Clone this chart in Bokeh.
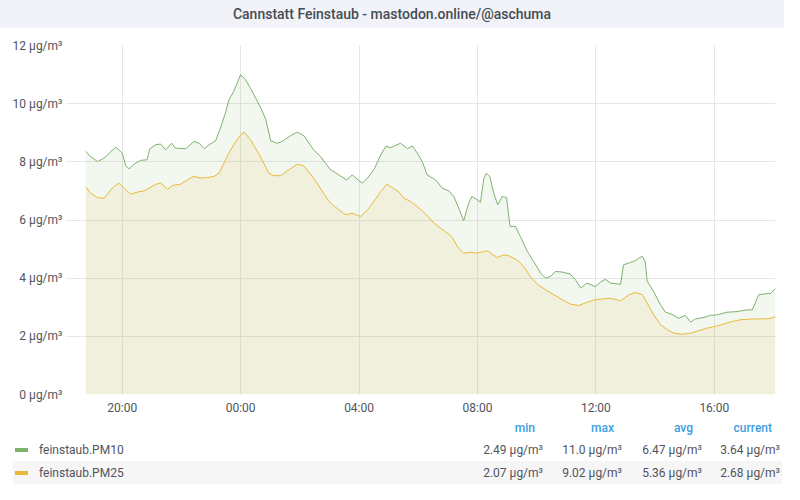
import pandas as pd
from bokeh.plotting import figure
from bokeh.layouts import column
from bokeh.models import Range1d, FixedTicker, DatetimeTickFormatter, ColumnDataSource, Div
from bokeh.embed import file_html
from bokeh.resources import INLINE

# ---------------- data ----------------
title_text = "Cannstatt Feinstaub - mastodon.online/@aschuma"
series_names = ["feinstaub.PM10", "feinstaub.PM25"]
stat_headers = ["min", "max", "avg", "current"]
pm10_stats = ["2.49 µg/m³", "11.0 µg/m³", "6.47 µg/m³", "3.64 µg/m³"]
pm25_stats = ["2.07 µg/m³", "9.02 µg/m³", "5.36 µg/m³", "2.68 µg/m³"]

x_window = ["18:07", "18:04"]
x_tick_labels = ["20:00", "00:00", "04:00", "08:00", "12:00", "16:00"]
y_ticks = [0, 2, 4, 6, 8, 10, 12]
y_unit = "µg/m³"

pm10_time = ["18:46","18:56","19:10","19:20","19:30","19:37","19:47","19:55","20:00","20:07",
             "20:14","20:24","20:37","20:50","20:56","21:08","21:18","21:28","21:40","21:48",
             "22:09","22:25","22:36","22:46","22:56","23:09","23:19","23:30","23:36","23:46",
             "00:00","00:10","00:20","00:27","00:41","00:51","01:01","01:14","01:24","01:41",
             "01:55","02:08","02:28","02:42","03:02","03:19","03:35","03:46","03:50","04:00",
             "04:07","04:17","04:30","04:44","04:54","05:04","05:24","05:38","05:48","05:58",
             "06:08","06:18","06:35","06:49","07:02","07:12","07:22","07:32","07:42","07:49",
             "07:59","08:06","08:13","08:18","08:25","08:33","08:41","08:50","08:59","09:06",
             "09:17","09:27","09:41","09:54","10:08","10:18","10:28","10:38","10:52","11:08",
             "11:19","11:29","11:42","11:59","12:09","12:19","12:30","12:50","12:56","13:10",
             "13:20","13:27","13:34","13:40","13:44","13:57","14:11","14:21","14:34","14:48",
             "15:01","15:12","15:22","15:39","15:52","16:06","16:26","16:46","17:06","17:17",
             "17:30","17:43","17:54","18:04"]
pm10_value = [8.36,8.18,8.01,8.10,8.22,8.36,8.50,8.38,8.30,7.87,
              7.76,7.92,8.05,8.07,8.45,8.59,8.61,8.41,8.64,8.47,
              8.45,8.70,8.64,8.45,8.59,8.72,9.16,9.73,10.13,10.42,
              11.00,10.82,10.53,10.30,9.85,9.45,8.72,8.64,8.70,8.90,
              9.02,8.90,8.41,8.18,7.73,7.55,7.38,7.55,7.50,7.35,
              7.27,7.44,7.73,8.24,8.53,8.49,8.64,8.45,8.55,8.30,
              8.01,7.55,7.38,7.09,7.00,6.81,6.41,5.97,6.58,6.81,
              6.70,6.61,7.44,7.61,7.50,6.92,6.52,6.81,6.77,5.78,
              5.78,5.43,4.92,4.57,4.17,4.00,4.06,4.23,4.21,4.14,
              3.94,3.66,3.83,3.71,3.86,3.96,3.83,3.79,4.46,4.54,
              4.60,4.69,4.75,4.57,3.89,3.54,3.08,2.83,2.76,2.62,
              2.72,2.49,2.60,2.65,2.72,2.74,2.83,2.85,2.91,2.91,
              3.43,3.46,3.48,3.64]

pm25_time = ["18:46","18:56","19:10","19:23","19:33","19:43","19:53","20:04","20:17","20:31",
             "20:44","20:54","21:08","21:18","21:32","21:42","21:58","22:12","22:25","22:39",
             "22:53","23:06","23:16","23:26","23:36","23:46","00:00","00:07","00:20","00:34",
             "00:47","00:57","01:07","01:21","01:38","01:55","02:08","02:22","02:35","02:49",
             "03:02","03:19","03:33","03:46","04:03","04:17","04:30","04:44","04:56","05:07",
             "05:21","05:31","05:44","05:58","06:11","06:21","06:32","06:45","06:59","07:09",
             "07:19","07:32","07:46","07:59","08:20","08:30","08:40","08:53","09:03","09:20",
             "09:34","09:47","10:01","10:18","10:35","10:52","11:08","11:25","11:42","11:59",
             "12:16","12:30","12:50","13:07","13:20","13:34","13:44","13:57","14:11","14:25",
             "14:38","14:55","15:12","15:28","15:45","16:02","16:19","16:36","16:53","17:10",
             "17:27","17:43","17:54","18:04"]
pm25_value = [7.13,6.92,6.77,6.75,6.96,7.15,7.27,7.09,6.89,6.96,
              7.00,7.09,7.23,7.27,7.06,7.19,7.23,7.38,7.50,7.44,
              7.46,7.50,7.61,7.95,8.30,8.59,8.93,9.02,8.76,8.36,
              7.95,7.61,7.53,7.52,7.73,7.92,7.86,7.57,7.27,6.89,
              6.58,6.35,6.18,6.23,6.12,6.35,6.64,6.98,7.23,7.12,
              6.96,6.75,6.64,6.46,6.27,6.10,5.89,5.72,5.55,5.40,
              5.09,4.86,4.89,4.86,4.94,4.82,4.71,4.80,4.77,4.63,
              4.40,4.06,3.79,3.60,3.43,3.26,3.11,3.06,3.17,3.26,
              3.29,3.31,3.22,3.43,3.51,3.43,3.14,2.74,2.40,2.22,
              2.11,2.07,2.11,2.19,2.28,2.34,2.42,2.51,2.57,2.59,
              2.60,2.60,2.62,2.68]

# ---------------- helpers ----------------
BASE = pd.Timestamp("2023-03-01")


def to_dt(times):
    out, day, prev = [], 0, None
    for t in times:
        h, m = map(int, t.split(":"))
        mins = h * 60 + m
        if prev is not None and mins < prev:
            day += 1
        prev = mins
        out.append(BASE + pd.Timedelta(days=day, minutes=mins))
    return out


def to_ms(ts):
    return [t.value / 1e6 for t in ts]


FONT = "Roboto"
TEXT_COLOR = "#52545c"
GREEN = "#7eb26d"
YELLOW = "#eab839"
W = 784
TITLE_H = 28
CHART_H = 390
LEGEND_H = 66
FL, FR = 66, 775            # frame left/right on the canvas
F_TOP, F_BOT = 17, 366      # frame top/bottom inside the chart figure

# ---------------- title bar ----------------
title_div = Div(
    text=(f'<div style="width:{W}px;height:{TITLE_H}px;line-height:{TITLE_H}px;'
          f'background:#f1f3f8;text-align:center;font-family:{FONT},sans-serif;'
          f'font-size:14px;font-weight:500;color:#464c54;white-space:nowrap">{title_text}</div>'),
    width=W, height=TITLE_H, margin=(0, 0, 0, 0))

# ---------------- main chart ----------------
xr = to_dt(x_window)
p = figure(width=W, height=CHART_H, x_axis_type="datetime",
           x_range=Range1d(xr[0], xr[1]), y_range=Range1d(0, 12),
           output_backend="svg", toolbar_location=None,
           min_border_left=FL, min_border_right=W - FR, min_border_top=F_TOP,
           min_border_bottom=CHART_H - F_BOT, margin=(0, 0, 0, 0))
p.outline_line_color = None
p.background_fill_color = "white"
p.border_fill_color = "white"

src10 = ColumnDataSource(dict(t=to_dt(pm10_time), v=pm10_value))
src25 = ColumnDataSource(dict(t=to_dt(pm25_time), v=pm25_value))

p.varea(x="t", y1=0, y2="v", source=src10, fill_color=GREEN, fill_alpha=0.1)
p.varea(x="t", y1=0, y2="v", source=src25, fill_color=YELLOW, fill_alpha=0.1)
p.line(x="t", y="v", source=src10, line_color=GREEN, line_width=1)
p.line(x="t", y="v", source=src25, line_color=YELLOW, line_width=1)

p.xaxis.ticker = FixedTicker(ticks=to_ms(to_dt(x_tick_labels)))
p.xaxis.formatter = DatetimeTickFormatter(hours="%H:%M", hourmin="%H:%M", days="%H:%M",
                                          minutes="%H:%M")
p.yaxis.ticker = FixedTicker(ticks=y_ticks)
p.yaxis.major_label_overrides = {t: f"{t} {y_unit}" for t in y_ticks}

for ax in (p.xaxis, p.yaxis):
    ax.axis_line_color = None
    ax.major_tick_line_color = None
    ax.minor_tick_line_color = None
    ax.major_tick_out = 0
    ax.major_tick_in = 0
    ax.minor_tick_out = 0
    ax.minor_tick_in = 0
    ax.major_label_text_font = FONT
    ax.major_label_text_font_size = "12px"
    ax.major_label_text_color = TEXT_COLOR
p.xaxis.major_label_standoff = 6
p.yaxis.major_label_standoff = 4
p.grid.grid_line_color = "#e6e6e6"
p.grid.grid_line_width = 1

# ---------------- legend table ----------------
header_y = 10                # text centres, relative to the legend block top
row_y = [32, 55]
row_band = (43, 66)
value_right = [543, 622, 702, 780]
header_right = [535, 614, 693, 772]

parts = [f'<div style="position:relative;width:{W}px;height:{LEGEND_H}px;'
         f'font-family:{FONT},sans-serif;font-size:12px;color:{TEXT_COLOR};">']
parts.append(f'<div style="position:absolute;left:13px;top:{row_band[0]}px;width:769px;'
             f'height:{row_band[1] - row_band[0]}px;background:#f6f6f7"></div>')


def span(txt, y, left=None, right=None, extra=""):
    pos = f"left:{left}px;" if left is not None else f"right:{W - right}px;"
    return (f'<span style="position:absolute;{pos}top:{y - 8}px;line-height:16px;'
            f'white-space:nowrap;{extra}">{txt}</span>')


for xh, h in zip(header_right, stat_headers):
    parts.append(span(h, header_y, right=xh, extra="color:#3d9de0;font-weight:500;"))
for yy, name, col, stats in zip(row_y, series_names, [GREEN, YELLOW], [pm10_stats, pm25_stats]):
    parts.append(f'<div style="position:absolute;left:15px;top:{yy - 2}px;width:13px;'
                 f'height:4px;background:{col}"></div>')
    parts.append(span(name, yy, left=39))
    for xv, s in zip(value_right, stats):
        parts.append(span(s, yy, right=xv))
parts.append('</div>')

legend_div = Div(text="".join(parts), width=W, height=LEGEND_H, margin=(0, 0, 0, 0))

layout = column(title_div, p, legend_div, spacing=0)
open("out.html", "w").write(file_html(layout, INLINE))
